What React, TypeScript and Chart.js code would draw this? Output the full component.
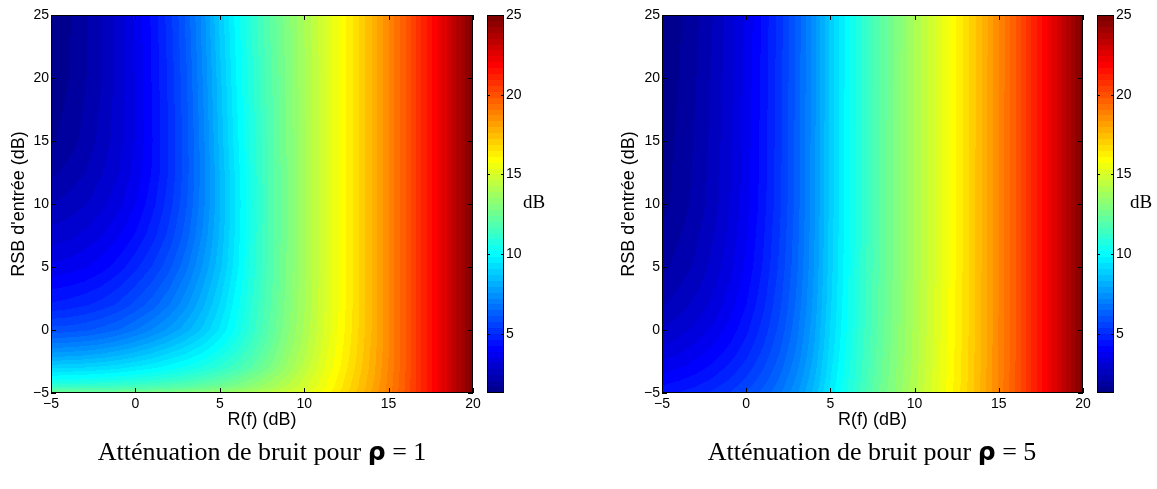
import React, { useEffect, useRef } from "react";
import { Chart, registerables } from "chart.js";

Chart.register(...registerables);

// ---------- axes / labels ----------
const R_VALUES = [-5, -4, -3, -2, -1, 0, 1, 2, 3, 4, 5, 6, 7, 8, 9, 10, 11, 12, 13, 14, 15, 16, 17, 18, 19, 20];
const X_TICKS = [-5, 0, 5, 10, 15, 20];
const Y_TICKS = [-5, 0, 5, 10, 15, 20, 25];
const CB_TICKS = [5, 10, 15, 20, 25];
const C_LIMITS = [1.3, 25];
const X_LABEL = "R(f) (dB)";
const Y_LABEL = "RSB d'entrée (dB)";
const CB_LABEL = "dB";
const CAPTION_TEXT = "Atténuation de bruit pour ";
const RHO_SYMBOL = "ρ";
const RHO_VALUES = ["1", "5"];

// ---------- rho = 1 : attenuation (dB) per SNR row, along R_VALUES ----------
const RHO1_SNR = [-5, -4.5, -4, -3, -2, -1, 0, 2, 5, 7.5, 10, 12.5, 15, 20, 25];
const RHO1_AT_SNR_M5 = [12.6, 12.6, 12.6, 12.65, 12.7, 12.75, 12.85, 12.95, 13.1, 13.3, 13.5, 13.75, 14.05, 14.4, 14.8, 15.25, 15.8, 16.45, 17.2, 18.0, 18.9, 19.9, 21.0, 22.2, 23.5, 24.9];
const RHO1_AT_SNR_M4_5 = [11.3, 11.3, 11.35, 11.4, 11.5, 11.6, 11.75, 11.9, 12.1, 12.35, 12.6, 12.95, 13.35, 13.8, 14.3, 14.85, 15.5, 16.25, 17.05, 17.9, 18.85, 19.85, 21.0, 22.2, 23.5, 24.9];
const RHO1_AT_SNR_M4 = [10.3, 10.35, 10.4, 10.5, 10.6, 10.75, 10.95, 11.15, 11.4, 11.7, 12.05, 12.45, 12.95, 13.5, 14.1, 14.75, 15.45, 16.2, 17.0, 17.85, 18.8, 19.85, 21.0, 22.2, 23.5, 24.9];
const RHO1_AT_SNR_M3 = [9.0, 9.05, 9.1, 9.2, 9.35, 9.55, 9.75, 10.0, 10.3, 10.65, 11.05, 11.55, 12.15, 12.85, 13.6, 14.4, 15.2, 16.0, 16.85, 17.75, 18.75, 19.8, 21.0, 22.2, 23.5, 24.9];
const RHO1_AT_SNR_M2 = [7.8, 7.85, 7.95, 8.1, 8.3, 8.55, 8.85, 9.2, 9.55, 9.95, 10.45, 11.05, 11.75, 12.55, 13.4, 14.2, 15.05, 15.9, 16.75, 17.7, 18.7, 19.8, 21.0, 22.2, 23.5, 24.9];
const RHO1_AT_SNR_M1 = [6.8, 6.85, 6.95, 7.1, 7.35, 7.65, 8.0, 8.4, 8.85, 9.35, 9.95, 10.65, 11.45, 12.3, 13.2, 14.05, 14.95, 15.8, 16.7, 17.65, 18.7, 19.8, 21.0, 22.2, 23.5, 24.9];
const RHO1_AT_SNR_0 = [5.9, 5.95, 6.05, 6.25, 6.5, 6.85, 7.25, 7.7, 8.2, 8.8, 9.5, 10.3, 11.2, 12.15, 13.05, 13.95, 14.85, 15.75, 16.65, 17.6, 18.7, 19.8, 21.0, 22.2, 23.5, 24.9];
const RHO1_AT_SNR_2 = [4.7, 4.8, 4.95, 5.15, 5.45, 5.85, 6.3, 6.85, 7.5, 8.25, 9.1, 10.05, 11.05, 12.0, 12.95, 13.85, 14.8, 15.7, 16.6, 17.6, 18.7, 19.8, 21.0, 22.2, 23.5, 24.9];
const RHO1_AT_SNR_5 = [3.6, 3.7, 3.85, 4.1, 4.45, 4.9, 5.4, 6.0, 6.75, 7.65, 8.6, 9.7, 10.8, 11.85, 12.85, 13.8, 14.75, 15.7, 16.6, 17.6, 18.7, 19.8, 21.0, 22.2, 23.5, 24.9];
const RHO1_AT_SNR_7_5 = [2.95, 3.05, 3.25, 3.5, 3.85, 4.3, 4.85, 5.5, 6.3, 7.3, 8.4, 9.6, 10.75, 11.8, 12.8, 13.8, 14.75, 15.7, 16.6, 17.6, 18.7, 19.8, 21.0, 22.2, 23.5, 24.9];
const RHO1_AT_SNR_10 = [2.4, 2.55, 2.75, 3.05, 3.4, 3.9, 4.5, 5.2, 6.05, 7.1, 8.3, 9.55, 10.7, 11.8, 12.8, 13.8, 14.75, 15.7, 16.6, 17.6, 18.7, 19.8, 21.0, 22.2, 23.5, 24.9];
const RHO1_AT_SNR_12_5 = [1.95, 2.15, 2.4, 2.75, 3.15, 3.65, 4.3, 5.05, 5.95, 7.05, 8.35, 9.6, 10.75, 11.8, 12.8, 13.8, 14.75, 15.7, 16.6, 17.6, 18.7, 19.8, 21.0, 22.2, 23.5, 24.9];
const RHO1_AT_SNR_15 = [1.6, 1.85, 2.15, 2.55, 3.0, 3.55, 4.25, 5.05, 5.95, 7.1, 8.45, 9.7, 10.8, 11.85, 12.85, 13.8, 14.75, 15.7, 16.6, 17.6, 18.7, 19.8, 21.0, 22.2, 23.5, 24.9];
const RHO1_AT_SNR_20 = [1.35, 1.65, 2.0, 2.4, 2.95, 3.55, 4.3, 5.1, 6.05, 7.25, 8.6, 9.85, 10.95, 11.95, 12.9, 13.85, 14.75, 15.7, 16.6, 17.6, 18.7, 19.8, 21.0, 22.2, 23.5, 24.9];
const RHO1_AT_SNR_25 = [1.3, 1.6, 1.95, 2.4, 2.95, 3.6, 4.35, 5.2, 6.2, 7.4, 8.8, 10.0, 11.1, 12.1, 13.0, 13.9, 14.8, 15.7, 16.6, 17.6, 18.7, 19.8, 21.0, 22.2, 23.5, 24.9];

// ---------- rho = 5 ----------
const RHO5_SNR = [-5, -4, -3, -2, -1, 0, 2, 5, 10, 25];
const RHO5_AT_SNR_M5 = [4.52, 4.66, 4.84, 5.08, 5.38, 5.77, 6.24, 6.8, 7.52, 8.44, 9.57, 10.6, 11.57, 12.48, 13.31, 14.16, 15.01, 15.87, 16.74, 17.71, 18.79, 19.85, 21.0, 22.2, 23.5, 24.9];
const RHO5_AT_SNR_M4 = [4.09, 4.25, 4.44, 4.7, 5.03, 5.45, 5.95, 6.56, 7.31, 8.27, 9.44, 10.5, 11.49, 12.41, 13.26, 14.11, 14.97, 15.84, 16.71, 17.69, 18.78, 19.84, 21.0, 22.2, 23.5, 24.9];
const RHO5_AT_SNR_M3 = [3.71, 3.88, 4.09, 4.37, 4.73, 5.17, 5.71, 6.34, 7.13, 8.12, 9.34, 10.41, 11.42, 12.36, 13.21, 14.07, 14.94, 15.81, 16.69, 17.67, 18.76, 19.83, 21.0, 22.2, 23.5, 24.9];
const RHO5_AT_SNR_M2 = [3.36, 3.55, 3.78, 4.08, 4.46, 4.93, 5.5, 6.16, 6.98, 8.0, 9.25, 10.34, 11.37, 12.32, 13.17, 14.04, 14.92, 15.79, 16.68, 17.66, 18.75, 19.82, 21.0, 22.2, 23.5, 24.9];
const RHO5_AT_SNR_M1 = [3.06, 3.26, 3.51, 3.83, 4.23, 4.72, 5.31, 6.01, 6.85, 7.9, 9.17, 10.28, 11.32, 12.28, 13.14, 14.02, 14.9, 15.78, 16.66, 17.65, 18.74, 19.82, 21.0, 22.2, 23.5, 24.9];
const RHO5_AT_SNR_0 = [2.8, 3.01, 3.27, 3.6, 4.03, 4.54, 5.16, 5.87, 6.74, 7.82, 9.11, 10.23, 11.28, 12.25, 13.12, 14.0, 14.88, 15.76, 16.65, 17.64, 18.73, 19.81, 21.0, 22.2, 23.5, 24.9];
const RHO5_AT_SNR_2 = [2.37, 2.6, 2.88, 3.25, 3.71, 4.26, 4.91, 5.67, 6.57, 7.69, 9.01, 10.16, 11.22, 12.2, 13.08, 13.97, 14.85, 15.74, 16.64, 17.63, 18.72, 19.81, 21.0, 22.2, 23.5, 24.9];
const RHO5_AT_SNR_5 = [1.93, 2.19, 2.49, 2.89, 3.39, 3.98, 4.67, 5.47, 6.41, 7.56, 8.92, 10.09, 11.17, 12.16, 13.04, 13.94, 14.83, 15.72, 16.62, 17.62, 18.71, 19.8, 21.0, 22.2, 23.5, 24.9];
const RHO5_AT_SNR_10 = [1.54, 1.83, 2.16, 2.59, 3.12, 3.75, 4.47, 5.3, 6.28, 7.46, 8.84, 10.03, 11.13, 12.12, 13.02, 13.91, 14.81, 15.71, 16.61, 17.61, 18.71, 19.8, 21.0, 22.2, 23.5, 24.9];
const RHO5_AT_SNR_25 = [1.3, 1.6, 1.95, 2.4, 2.95, 3.6, 4.35, 5.2, 6.2, 7.4, 8.8, 10.0, 11.1, 12.1, 13.0, 13.9, 14.8, 15.7, 16.6, 17.6, 18.7, 19.8, 21.0, 22.2, 23.5, 24.9];

const RHO1_ROWS = [
  RHO1_AT_SNR_M5, RHO1_AT_SNR_M4_5, RHO1_AT_SNR_M4, RHO1_AT_SNR_M3, RHO1_AT_SNR_M2, RHO1_AT_SNR_M1,
  RHO1_AT_SNR_0, RHO1_AT_SNR_2, RHO1_AT_SNR_5, RHO1_AT_SNR_7_5, RHO1_AT_SNR_10, RHO1_AT_SNR_12_5,
  RHO1_AT_SNR_15, RHO1_AT_SNR_20, RHO1_AT_SNR_25,
];
const RHO5_ROWS = [
  RHO5_AT_SNR_M5, RHO5_AT_SNR_M4, RHO5_AT_SNR_M3, RHO5_AT_SNR_M2, RHO5_AT_SNR_M1,
  RHO5_AT_SNR_0, RHO5_AT_SNR_2, RHO5_AT_SNR_5, RHO5_AT_SNR_10, RHO5_AT_SNR_25,
];

// ---------- colormap (MATLAB jet, 64 levels) ----------
const N_LEVELS = 64;
function jet(k: number): [number, number, number] {
  const i = k + 1;
  const g = i <= 8 ? 0 : i <= 24 ? (i - 8) / 16 : i <= 39 ? 1 : i <= 55 ? (56 - i) / 16 : 0;
  const r = i <= 24 ? 0 : i <= 40 ? (i - 24) / 16 : i <= 55 ? 1 : (72 - i) / 16;
  const b = i <= 8 ? (i + 8) / 16 : i <= 23 ? 1 : i <= 39 ? (40 - i) / 16 : 0;
  return [Math.round(r * 255), Math.round(g * 255), Math.round(b * 255)];
}
function levelOf(v: number) {
  const [lo, hi] = C_LIMITS;
  let k = Math.floor(((v - lo) / (hi - lo)) * N_LEVELS);
  if (k < 0) k = 0;
  if (k > N_LEVELS - 1) k = N_LEVELS - 1;
  return k;
}
function locate(arr: number[], v: number): [number, number] {
  const n = arr.length;
  if (v <= arr[0]) return [0, 0];
  if (v >= arr[n - 1]) return [n - 2, 1];
  let i = 0;
  while (arr[i + 1] < v) i++;
  return [i, (v - arr[i]) / (arr[i + 1] - arr[i])];
}

const SANS = '"Liberation Sans", Arial, Helvetica, sans-serif';
const fmt = (v: any) => (Number(v) < 0 ? "\u2212" + Math.abs(Number(v)) : String(v));

function makeHeatmapPlugin(snr: number[], rows: number[][]) {
  return {
    id: "heatmap",
    beforeDatasetsDraw(chart: any) {
      const { ctx, chartArea: a, scales } = chart;
      const xs = scales.x;
      const ys = scales.y;
      const x0 = Math.round(a.left);
      const y0 = Math.round(a.top);
      const w = Math.round(a.right) - x0;
      const h = Math.round(a.bottom) - y0;
      const off = document.createElement("canvas");
      off.width = w;
      off.height = h;
      const octx = off.getContext("2d") as CanvasRenderingContext2D;
      const img = octx.createImageData(w, h);
      const cols: [number, number][] = [];
      for (let px = 0; px < w; px++) cols.push(locate(R_VALUES, xs.getValueForPixel(x0 + px + 0.5)));
      const palette: [number, number, number][] = [];
      for (let k = 0; k < N_LEVELS; k++) palette.push(jet(k));
      for (let py = 0; py < h; py++) {
        const [j, ty] = locate(snr, ys.getValueForPixel(y0 + py + 0.5));
        const lo = rows[j];
        const hi = rows[j + 1];
        for (let px = 0; px < w; px++) {
          const [i, tx] = cols[px];
          const a0 = lo[i] + (lo[i + 1] - lo[i]) * tx;
          const a1 = hi[i] + (hi[i + 1] - hi[i]) * tx;
          const c = palette[levelOf(a0 + (a1 - a0) * ty)];
          const o = (py * w + px) * 4;
          img.data[o] = c[0];
          img.data[o + 1] = c[1];
          img.data[o + 2] = c[2];
          img.data[o + 3] = 255;
        }
      }
      octx.putImageData(img, 0, 0);
      ctx.drawImage(off, x0, y0);
    },
  };
}

function makeFramePlugin(tickLen: number, xTicks: boolean) {
  return {
    id: "frame",
    afterDraw(chart: any) {
      const { ctx, chartArea: a, scales } = chart;
      const L = Math.round(a.left);
      const R = Math.round(a.right);
      const T = Math.round(a.top);
      const B = Math.round(a.bottom);
      ctx.save();
      ctx.strokeStyle = "#000";
      ctx.lineWidth = 1;
      ctx.beginPath();
      if (xTicks) {
        for (const t of scales.x.ticks) {
          const px = Math.round(scales.x.getPixelForValue(t.value)) + 0.5;
          ctx.moveTo(px, B);
          ctx.lineTo(px, B - tickLen);
          ctx.moveTo(px, T);
          ctx.lineTo(px, T + tickLen);
        }
      }
      for (const t of scales.y.ticks) {
        const py = Math.round(scales.y.getPixelForValue(t.value)) + 0.5;
        ctx.moveTo(L, py);
        ctx.lineTo(L + tickLen, py);
        ctx.moveTo(R, py);
        ctx.lineTo(R - tickLen, py);
      }
      ctx.stroke();
      ctx.strokeRect(L + 0.5, T + 0.5, R - L - 1, B - T - 1);
      ctx.restore();
    },
  };
}

const colorbarPlugin = {
  id: "colorbar",
  beforeDatasetsDraw(chart: any) {
    const { ctx, chartArea: a, scales } = chart;
    const ys = scales.y;
    const [lo, hi] = C_LIMITS;
    for (let k = 0; k < N_LEVELS; k++) {
      const v0 = lo + ((hi - lo) * k) / N_LEVELS;
      const v1 = lo + ((hi - lo) * (k + 1)) / N_LEVELS;
      const yb = Math.round(ys.getPixelForValue(v0));
      const yt = Math.round(ys.getPixelForValue(v1));
      const c = jet(k);
      ctx.fillStyle = `rgb(${c[0]},${c[1]},${c[2]})`;
      ctx.fillRect(Math.round(a.left), yt, Math.round(a.right) - Math.round(a.left), yb - yt);
    }
  },
};

function HeatChart({ left, plotLeft, snr, rows }: { left: number; plotLeft: number; snr: number[]; rows: number[][] }) {
  const ref = useRef<HTMLCanvasElement>(null);
  useEffect(() => {
    const chart = new Chart(ref.current as HTMLCanvasElement, {
      type: "scatter",
      data: { datasets: [] },
      options: {
        animation: false,
        responsive: false,
        maintainAspectRatio: false,
        events: [],
        layout: { padding: { left: 0, top: 15, right: 27, bottom: 0 } },
        plugins: { legend: { display: false }, tooltip: { enabled: false } },
        scales: {
          x: {
            type: "linear",
            min: -5,
            max: 20,
            grid: { display: false, drawTicks: false, drawOnChartArea: false },
            border: { display: false },
            afterBuildTicks: (s: any) => {
              s.ticks = X_TICKS.map((v) => ({ value: v }));
            },
            afterFit: (s: any) => {
              s.height = 47;
            },
            ticks: { padding: 3, color: "#000", autoSkip: false, maxRotation: 0, font: { family: SANS, size: 14 }, callback: fmt },
            title: { display: true, text: X_LABEL, color: "#000", font: { family: SANS, size: 18 }, padding: { top: 0, bottom: 9 } },
          },
          y: {
            type: "linear",
            min: -5,
            max: 25,
            grid: { display: false, drawTicks: false, drawOnChartArea: false },
            border: { display: false },
            afterBuildTicks: (s: any) => {
              s.ticks = Y_TICKS.map((v) => ({ value: v }));
            },
            afterFit: (s: any) => {
              s.width = plotLeft;
            },
            ticks: { padding: 2, color: "#000", autoSkip: false, font: { family: SANS, size: 14 }, callback: fmt },
            title: { display: true, text: Y_LABEL, color: "#000", font: { family: SANS, size: 18 }, padding: { top: 8, bottom: 0 } },
          },
        },
      } as any,
      plugins: [makeHeatmapPlugin(snr, rows), makeFramePlugin(5, true)],
    });
    return () => chart.destroy();
  }, []);
  return <canvas ref={ref} width={500} height={440} style={{ position: "absolute", left, top: 0, width: 500, height: 440 }} />;
}

function ColorBar({ left }: { left: number }) {
  const ref = useRef<HTMLCanvasElement>(null);
  useEffect(() => {
    const chart = new Chart(ref.current as HTMLCanvasElement, {
      type: "scatter",
      data: { datasets: [] },
      options: {
        animation: false,
        responsive: false,
        maintainAspectRatio: false,
        events: [],
        layout: { padding: { left: 7, top: 15, right: 0, bottom: 47 } },
        plugins: { legend: { display: false }, tooltip: { enabled: false } },
        scales: {
          x: { type: "linear", display: false, min: 0, max: 1 },
          y: {
            type: "linear",
            position: "right",
            min: C_LIMITS[0],
            max: C_LIMITS[1],
            grid: { display: false, drawTicks: false, drawOnChartArea: false },
            border: { display: false },
            afterBuildTicks: (s: any) => {
              s.ticks = CB_TICKS.map((v) => ({ value: v }));
            },
            afterFit: (s: any) => {
              s.width = 46;
            },
            ticks: { padding: 2, color: "#000", autoSkip: false, font: { family: SANS, size: 14 }, callback: (v: any) => String(v) },
          },
        },
      } as any,
      plugins: [colorbarPlugin, makeFramePlugin(3, false)],
    });
    return () => chart.destroy();
  }, []);
  return <canvas ref={ref} width={70} height={440} style={{ position: "absolute", left, top: 0, width: 70, height: 440 }} />;
}

function Caption({ center, rho }: { center: number; rho: string }) {
  return (
    <div
      style={{
        position: "absolute",
        left: center - 250,
        width: 500,
        top: 439,
        textAlign: "center",
        fontFamily: '"Liberation Serif", "Times New Roman", serif',
        fontSize: 26,
        lineHeight: "26px",
        color: "#000",
        whiteSpace: "nowrap",
      }}
    >
      {CAPTION_TEXT}
      <span style={{ fontFamily: '"DejaVu Sans", sans-serif', fontWeight: "bold", fontSize: 25 }}>{RHO_SYMBOL}</span>
      {" = " + rho}
    </div>
  );
}

function CbLabel({ center }: { center: number }) {
  return (
    <div
      style={{
        position: "absolute",
        left: center - 30,
        width: 60,
        top: 192,
        textAlign: "center",
        fontFamily: '"Liberation Serif", "Times New Roman", serif',
        fontSize: 19,
        lineHeight: "19px",
        color: "#000",
      }}
    >
      {CB_LABEL}
    </div>
  );
}

export default function App() {
  return (
    <div style={{ position: "fixed", left: 0, top: 0, width: 1157, height: 489, background: "#fff", overflow: "hidden" }}>
      <HeatChart left={0} plotLeft={51} snr={RHO1_SNR} rows={RHO1_ROWS} />
      <ColorBar left={480} />
      <CbLabel center={534} />
      <Caption center={262} rho={RHO_VALUES[0]} />
      <HeatChart left={610} plotLeft={52} snr={RHO5_SNR} rows={RHO5_ROWS} />
      <ColorBar left={1090} />
      <CbLabel center={1141} />
      <Caption center={872} rho={RHO_VALUES[1]} />
    </div>
  );
}
